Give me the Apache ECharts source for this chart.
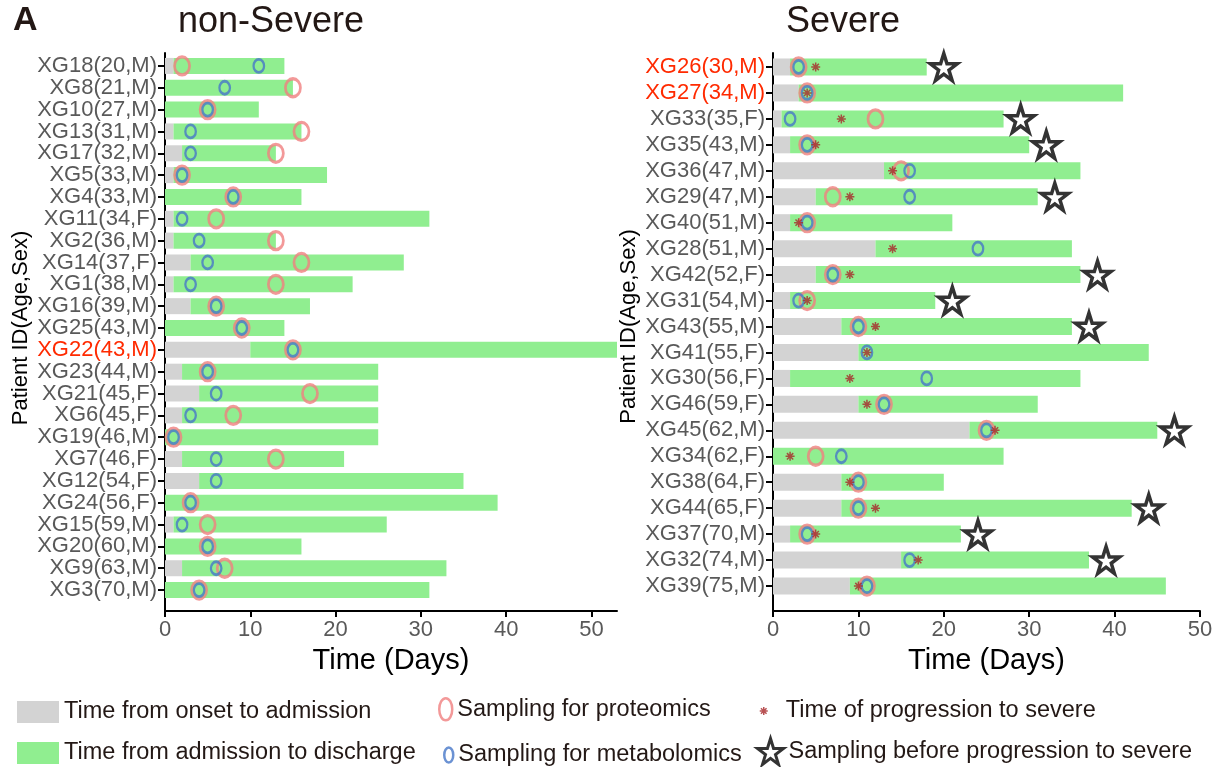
<!DOCTYPE html>
<html>
<head>
<meta charset="utf-8">
<script src="https://cdn.jsdelivr.net/npm/echarts@6/dist/echarts.min.js"></script>
<style>
  html, body { margin: 0; padding: 0; background: #fff; }
  #chart { width: 1221px; height: 767px; }
</style>
</head>
<body>
<div id="chart"></div>
<script>
// ---- non-Severe patients (days since onset) ----
const mildPatients = ['XG18(20,M)', 'XG8(21,M)', 'XG10(27,M)', 'XG13(31,M)', 'XG17(32,M)', 'XG5(33,M)',
  'XG4(33,M)', 'XG11(34,F)', 'XG2(36,M)', 'XG14(37,F)', 'XG1(38,M)', 'XG16(39,M)', 'XG25(43,M)',
  'XG22(43,M)', 'XG23(44,M)', 'XG21(45,F)', 'XG6(45,F)', 'XG19(46,M)', 'XG7(46,F)', 'XG12(54,F)',
  'XG24(56,F)', 'XG15(59,M)', 'XG20(60,M)', 'XG9(63,M)', 'XG3(70,M)'];
const mildAdmission   = [1, 0, 0, 1, 2, 1, 0, 1, 1, 3, 1, 3, 0, 10, 2, 4, 2, 0, 2, 4, 0, 1, 0, 2, 0];
const mildDischarge   = [14, 15, 11, 16, 13, 19, 16, 31, 13, 28, 22, 17, 14, 53, 25, 25, 25, 25, 21, 35, 39, 26, 16, 33, 31];
const mildProteomics  = [2, 15, 5, 16, 13, 2, 8, 6, 13, 16, 13, 6, 9, 15, 5, 17, 8, 1, 13, null, 3, 5, 5, 7, 4];
const mildMetabolomics = [11, 7, 5, 3, 3, 2, 8, 2, 4, 5, 3, 6, 9, 15, 5, 6, 3, 1, 6, 6, 3, 2, 5, 6, 4];
const mildHighlighted = ['XG22(43,M)'];

// ---- Severe patients (days since onset) ----
const severePatients = ['XG26(30,M)', 'XG27(34,M)', 'XG33(35,F)', 'XG35(43,M)', 'XG36(47,M)', 'XG29(47,M)',
  'XG40(51,M)', 'XG28(51,M)', 'XG42(52,F)', 'XG31(54,M)', 'XG43(55,M)', 'XG41(55,F)', 'XG30(56,F)',
  'XG46(59,F)', 'XG45(62,M)', 'XG34(62,F)', 'XG38(64,F)', 'XG44(65,F)', 'XG37(70,M)', 'XG32(74,M)', 'XG39(75,M)'];
const severeAdmission   = [2, 3, 1, 2, 13, 5, 2, 12, 5, 2, 8, 10, 2, 10, 23, 0, 8, 8, 2, 15, 9];
const severeDischarge   = [18, 41, 27, 30, 36, 31, 21, 35, 36, 19, 35, 44, 36, 31, 45, 27, 20, 42, 22, 37, 46];
const severeProteomics  = [3, 4, 12, 4, 15, 7, 4, null, 7, 4, 10, null, null, 13, 25, 5, 10, 10, 4, null, 11];
const severeMetabolomics = [3, 4, 2, 4, 16, 16, 4, 24, 7, 3, 10, 11, 18, 13, 25, 8, 10, 10, 4, 16, 11];
const severeProgression = [5, 4, 8, 5, 14, 9, 3, 14, 9, 4, 12, 11, 9, 11, 26, 2, 9, 12, 5, 17, 10];
const severePreSampling = [20, null, 29, 32, null, 33, null, null, 38, 21, 37, null, null, null, 47, null, null, 44, 24, 39, null];
const severeHighlighted = ['XG26(30,M)', 'XG27(34,M)'];

const mildMaxDay = 53;
const severeMaxDay = 50;
const dayTicks = [0, 10, 20, 30, 40, 50];

// ---- styling ----
const FONT = "'Liberation Sans', Arial, Helvetica, sans-serif";
const INK = '#231815';
const STAR_INK = '#000000';
const LABEL_GREY = '#595959';
const ONSET_COLOR = '#D3D3D3';
const STAY_COLOR = '#90EE90';
const PROT_COLOR = '#F08080';
const METAB_COLOR = '#4677C8';
const PROG_COLOR = '#A8282A';
const ASTERISK = 'path://M5,0L5,10M0,5L10,5M1.5,1.5L8.5,8.5M8.5,1.5L1.5,8.5';
const STAR = 'path://M50,2L61.8,38.2L99.9,38.2L69.1,60.6L80.9,96.8L50,74.4L19.1,96.8L30.9,60.6L0.1,38.2L38.2,38.2Z';
const ELLIPSE = 'path://M0,50A50,50 0 1,0 100,50A50,50 0 1,0 0,50Z';

const N_ONSET = 'Time from onset to admission';
const N_STAY = 'Time from admission to discharge';
const N_PROT = 'Sampling for proteomics';
const N_METAB = 'Sampling for metabolomics';
const N_PROG = 'Time of progression to severe';
const N_STAR = 'Sampling before progression to severe';

const points = vals => vals.map((v, i) => (v == null ? null : [v, i])).filter(Boolean);
const stay = (adm, dis) => dis.map((d, i) => d - adm[i]);
const categoryData = (names, red) => names.map(n => red.includes(n) ? { value: n, textStyle: { color: '#FF2A00' } } : n);

function barAxis(gridIndex, names, red) {
  return {
    gridIndex, type: 'category', inverse: true, data: categoryData(names, red),
    axisLine: { show: false },
    axisTick: { show: true, alignWithLabel: true, interval: 0, length: 7, lineStyle: { color: '#000', width: 2 } },
    axisLabel: { interval: 0, color: LABEL_GREY, fontSize: 22, fontFamily: FONT, margin: 8 },
    splitLine: { show: false },
    name: 'Patient ID(Age,Sex)', nameLocation: 'middle', nameGap: 133,
    nameTextStyle: { color: '#000', fontSize: 22, fontFamily: FONT }
  };
}
function frameYAxis(gridIndex) {
  return {
    gridIndex, type: 'value', min: 0, max: 1,
    axisLine: { show: true, lineStyle: { color: '#000', width: 2 } },
    axisTick: { show: false }, axisLabel: { show: false }, splitLine: { show: false }
  };
}
function frameXAxis(gridIndex, max) {
  return {
    gridIndex, type: 'value', min: 0, max,
    axisLine: { show: true, lineStyle: { color: '#000', width: 2 } },
    axisTick: { show: true, customValues: dayTicks, length: 6, lineStyle: { color: '#000', width: 2 } },
    axisLabel: { customValues: dayTicks, color: LABEL_GREY, fontSize: 22, fontFamily: FONT, margin: 8 },
    splitLine: { show: false },
    name: 'Time (Days)', nameLocation: 'middle', nameGap: 35,
    nameTextStyle: { color: '#000', fontSize: 29, fontFamily: FONT }
  };
}

function panelSeries(xi, yi, adm, dis, prot, metab, barWidth) {
  return [
    { name: N_ONSET, type: 'bar', xAxisIndex: xi, yAxisIndex: yi, stack: 'p' + xi, barWidth,
      itemStyle: { color: ONSET_COLOR }, data: adm },
    { name: N_STAY, type: 'bar', xAxisIndex: xi, yAxisIndex: yi, stack: 'p' + xi, barWidth,
      itemStyle: { color: STAY_COLOR }, data: stay(adm, dis) },
    { name: N_PROT, type: 'scatter', xAxisIndex: xi, yAxisIndex: yi, symbol: 'circle', symbolSize: [15, 18],
      itemStyle: { color: 'transparent', borderColor: PROT_COLOR, borderWidth: 3 }, data: points(prot) },
    { name: N_METAB, type: 'scatter', xAxisIndex: xi, yAxisIndex: yi, symbol: 'circle', symbolSize: [10.5, 13],
      itemStyle: { color: 'transparent', borderColor: METAB_COLOR, borderWidth: 2.5 }, data: points(metab) }
  ];
}

const legendText = { color: INK, fontSize: 23.5, fontFamily: FONT };
function legendBox(name, icon, left, top, w, h, extra) {
  return Object.assign({
    data: [{ name, icon }], left, top, itemWidth: w, itemHeight: h, padding: 0,
    symbolKeepAspect: false, selectedMode: false, textStyle: legendText
  }, extra || {});
}

const chart = echarts.init(document.getElementById('chart'), null, { renderer: 'canvas' });
chart.setOption({
  animation: false,
  backgroundColor: '#fff',
  textStyle: { fontFamily: FONT },
  title: [
    { text: 'A', left: 13, top: 4, padding: 0, textStyle: { color: INK, fontSize: 34, fontWeight: 'bold', fontFamily: FONT } },
    { text: 'non-Severe', left: 178, top: 4, padding: 0, textStyle: { color: INK, fontSize: 36, fontWeight: 'normal', fontFamily: FONT } },
    { text: 'Severe', left: 786, top: 4, padding: 0, textStyle: { color: INK, fontSize: 36, fontWeight: 'normal', fontFamily: FONT } }
  ],
  grid: [
    { left: 165, right: 604, top: 55, bottom: 166 },   // non-Severe bars
    { left: 165, right: 604, top: 53, bottom: 156 },   // non-Severe frame
    { left: 773, right: 21, top: 54, bottom: 168 },    // Severe bars
    { left: 773, right: 21, top: 53, bottom: 156 }     // Severe frame
  ],
  xAxis: [
    { gridIndex: 0, type: 'value', min: 0, max: mildMaxDay, show: false },
    frameXAxis(1, mildMaxDay),
    { gridIndex: 2, type: 'value', min: 0, max: severeMaxDay, show: false },
    frameXAxis(3, severeMaxDay)
  ],
  yAxis: [
    barAxis(0, mildPatients, mildHighlighted),
    frameYAxis(1),
    barAxis(2, severePatients, severeHighlighted),
    frameYAxis(3)
  ],
  legend: [
    legendBox(N_ONSET, 'rect', 17, 700, 42, 22),
    legendBox(N_STAY, 'rect', 17, 741, 42, 22),
    legendBox(N_PROT, ELLIPSE, 438, 697, 13, 22, { itemStyle: { color: 'transparent', borderColor: PROT_COLOR, borderWidth: 2.5 } }),
    legendBox(N_METAB, ELLIPSE, 443, 743, 9, 15, { itemStyle: { color: 'transparent', borderColor: METAB_COLOR, borderWidth: 2.5 } }),
    legendBox(N_PROG, ASTERISK, 759, 699, 8, 8, {
      formatter: '{pad| }{name}',
      textStyle: Object.assign({}, legendText, { rich: { pad: { width: 13 } } }),
      itemStyle: { color: PROG_COLOR, borderColor: PROG_COLOR, borderWidth: 1.5 }
    }),
    legendBox(N_STAR, STAR, 756, 737, 26, 26, { itemStyle: { color: '#fff', borderColor: STAR_INK, borderWidth: 3 } })
  ],
  series: [
    ...panelSeries(0, 0, mildAdmission, mildDischarge, mildProteomics, mildMetabolomics, 16),
    ...panelSeries(2, 2, severeAdmission, severeDischarge, severeProteomics, severeMetabolomics, 17),
    { name: N_PROG, type: 'scatter', xAxisIndex: 2, yAxisIndex: 2, symbol: ASTERISK, symbolSize: 9,
      itemStyle: { color: PROG_COLOR, borderColor: PROG_COLOR, borderWidth: 1.5 }, data: points(severeProgression) },
    { name: N_STAR, type: 'scatter', xAxisIndex: 2, yAxisIndex: 2, symbol: STAR, symbolSize: 27,
      itemStyle: { color: '#fff', borderColor: STAR_INK, borderWidth: 3.5 }, data: points(severePreSampling) }
  ]
});
</script>
</body>
</html>
